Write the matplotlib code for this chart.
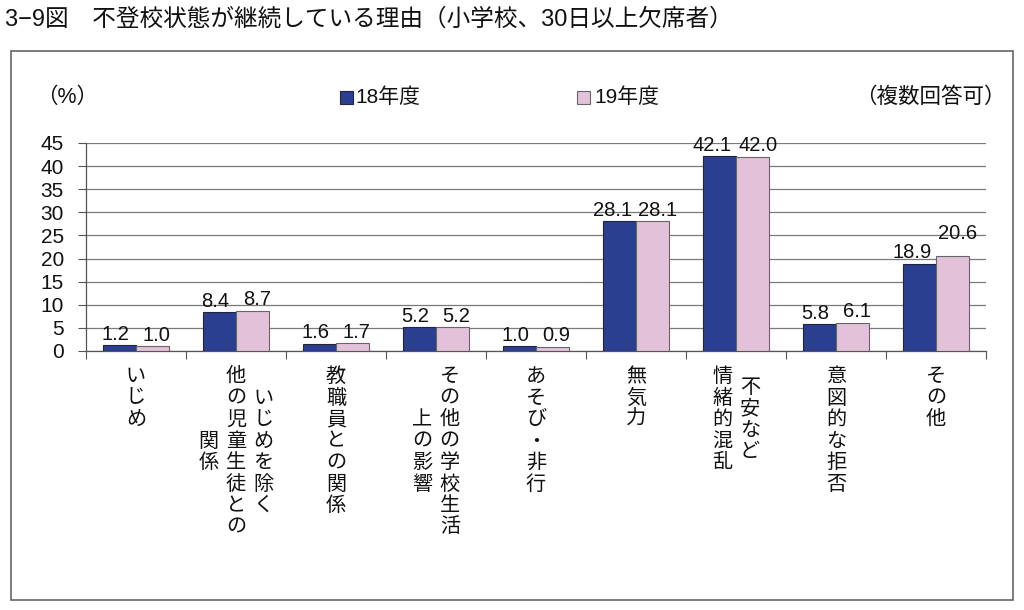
import matplotlib
matplotlib.use("Agg")
import matplotlib.pyplot as plt
import matplotlib.patches as mpatches
from matplotlib.transforms import blended_transform_factory, ScaledTranslation
import numpy as np

plt.rcParams['font.family'] = ['Liberation Sans', 'Noto Sans CJK JP']

# ---- data ----
categories = [
    ["いじめ"],
    ["いじめを除く", "他の児童生徒との", "関係"],
    ["教職員との関係"],
    ["その他の学校生活", "上の影響"],
    ["あそび・非行"],
    ["無気力"],
    ["不安など", "情緒的混乱"],
    ["意図的な拒否"],
    ["その他"],
]
series_names = ["18年度", "19年度"]
values_18 = [1.2, 8.4, 1.6, 5.2, 1.0, 28.1, 42.1, 5.8, 18.9]
values_19 = [1.0, 8.7, 1.7, 5.2, 0.9, 28.1, 42.0, 6.1, 20.6]
yticks = [0, 5, 10, 15, 20, 25, 30, 35, 40, 45]
title = "3−9図　不登校状態が継続している理由（小学校、30日以上欠席者）"
unit_label = "（%）"
note_label = "（複数回答可）"

navy = "#2B3F91"
pink = "#E3C1D9"

W, H = 1024, 610
fig = plt.figure(figsize=(W / 100, H / 100), dpi=100)
fig.patch.set_facecolor("white")

def fx(px):
    return px / W

def fy(py):
    return 1 - py / H

ax = fig.add_axes([fx(86), fy(351), fx(986) - fx(86), fy(143) - fy(351)])

x = np.arange(len(categories))
bw = 0.33
ax.bar(x - bw / 2, values_18, width=bw, color=navy, edgecolor="#222244", linewidth=0.8, zorder=3)
ax.bar(x + bw / 2, values_19, width=bw, color=pink, edgecolor="#666666", linewidth=0.8, zorder=3)

ax.set_xlim(-0.5, len(categories) - 0.5)
ax.set_ylim(0, 45)
ax.set_yticks(yticks)
ax.set_yticklabels([str(t) for t in yticks], fontsize=15, color="#111111")
ax.set_xticks(np.arange(len(categories) + 1) - 0.5)
ax.set_xticklabels([])
ax.tick_params(axis="y", direction="out", length=6, width=0.8, color="#555555", pad=10)
ax.tick_params(axis="x", direction="out", length=5.5, width=0.8, color="#555555")
ax.yaxis.grid(True, color="#7a7a7a", linewidth=0.9, zorder=0)
ax.set_axisbelow(True)
for s in ["top", "right"]:
    ax.spines[s].set_visible(False)
ax.spines["left"].set_color("#555555")
ax.spines["bottom"].set_color("#555555")
ax.spines["left"].set_linewidth(0.9)
ax.spines["bottom"].set_linewidth(0.9)

# value labels
for i in range(len(categories)):
    v1, v2 = values_18[i], values_19[i]
    dy2 = 8 if i == len(categories) - 1 else 0
    dx1 = -5 if v1 >= 10 else -3
    dx2 = 4 if v2 >= 10 else 3
    ax.annotate(f"{v1:.1f}", (x[i] - bw / 2, v1), xytext=(dx1, 1), textcoords="offset points",
                ha="center", va="bottom", fontsize=14.5, color="#111111")
    ax.annotate(f"{v2:.1f}", (x[i] + bw / 2, v2), xytext=(dx2, 1 + dy2), textcoords="offset points",
                ha="center", va="bottom", fontsize=14.5, color="#111111")

# vertical category labels
char_step = 21.5
col_step = 27.5
top_px = 367
for i, cols in enumerate(categories):
    n = len(cols)
    L = max(len(c) for c in cols)
    for j, col in enumerate(cols):
        dx = ((n - 1) / 2 - j) * col_step
        m = len(col)
        y0 = top_px + (L - m) / 2 * char_step
        trans = blended_transform_factory(ax.transData, fig.transFigure) + \
            ScaledTranslation(dx / 100, 0, fig.dpi_scale_trans)
        for k, ch in enumerate(col):
            fig.text(x[i], fy(y0 + k * char_step), ch, transform=trans, ha="center", va="top",
                     fontsize=14.5, color="#111111")

# title
fig.text(fx(5), fy(20), title, ha="left", va="center", fontsize=17, color="#111111")

# frame
frame = mpatches.Rectangle((fx(11), fy(600)), fx(1013) - fx(11), fy(51) - fy(600),
                           transform=fig.transFigure, fill=False, edgecolor="#666666",
                           linewidth=1.2)
fig.patches.append(frame)

# header texts
fig.text(fx(36), fy(97), unit_label, ha="left", va="center", fontsize=15.5, color="#111111")
fig.text(fx(1006), fy(97), note_label, ha="right", va="center", fontsize=15.5, color="#111111")

# legend
for (sx, tx, c, ec, name) in [(340, 355, navy, "#222244", series_names[0]),
                              (577, 594, pink, "#666666", series_names[1])]:
    sq = mpatches.Rectangle((fx(sx), fy(104)), fx(13), 13 / H, transform=fig.transFigure,
                            facecolor=c, edgecolor=ec, linewidth=0.8)
    fig.patches.append(sq)
    fig.text(fx(tx), fy(97), name, ha="left", va="center", fontsize=15, color="#111111")

fig.savefig("out.png", dpi=100, facecolor="white")
